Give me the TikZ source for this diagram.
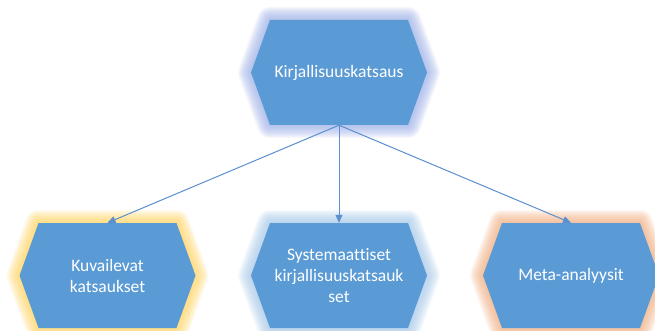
\documentclass[tikz,border=0pt]{standalone}
\usepackage{fontspec}
\setmainfont[Ligatures=NoCommon]{Carlito}
\usetikzlibrary{arrows.meta}
\definecolor{hexfill}{HTML}{5B9BD5}
\definecolor{arrowcol}{HTML}{5B8FCF}
\definecolor{glowtop}{HTML}{9EB2EA}
\definecolor{glowyellow}{HTML}{FFD75E}
\definecolor{glowblue}{HTML}{A9CBEC}
\definecolor{glowpeach}{HTML}{F4B183}
\newcommand{\hexshape}[3]{%
  \foreach \w in {26,24,...,2}{%
    \draw[line width=\w pt, draw=#3, draw opacity=0.09, line join=round]
      (#1-88,#2) -- (#1-69,#2-52.5) -- (#1+69,#2-52.5) -- (#1+88,#2) -- (#1+69,#2+52.5) -- (#1-69,#2+52.5) -- cycle;}
  \fill[hexfill] (#1-88,#2) -- (#1-69,#2-52.5) -- (#1+69,#2-52.5) -- (#1+88,#2) -- (#1+69,#2+52.5) -- (#1-69,#2+52.5) -- cycle;
}
\tikzset{
  txt/.style={minimum width=138pt, minimum height=105pt, inner sep=0pt, align=center,
    text=white, font=\fontsize{17.5}{21}\selectfont},
  conn/.style={draw=arrowcol, line width=1pt, -{Triangle[length=8pt,width=7pt]}}
}
\begin{document}
\begin{tikzpicture}[x=1pt,y=-1pt]
\useasboundingbox (0,0) rectangle (655,331);
\clip (0,0) rectangle (655,331);
\fill[white] (0,0) rectangle (655,331);
\hexshape{339}{72.5}{glowtop}
\hexshape{107.5}{275.5}{glowyellow}
\hexshape{339}{275.5}{glowblue}
\hexshape{571}{275.5}{glowpeach}
\node[txt] (top) at (339,72.5) {Kirjallisuuskatsaus};
\node[txt] (left) at (107.5,275.5) {Kuvailevat\\katsaukset};
\node[txt] (mid) at (339,275.5) {Systemaattiset\\kirjallisuuskatsauk\\set};
\node[txt] (right) at (571,275.5) {Meta-analyysit};
\draw[conn] (top.south) -- (left.north);
\draw[conn] (top.south) -- (mid.north);
\draw[conn] (top.south) -- (right.north);
\end{tikzpicture}
\end{document}
